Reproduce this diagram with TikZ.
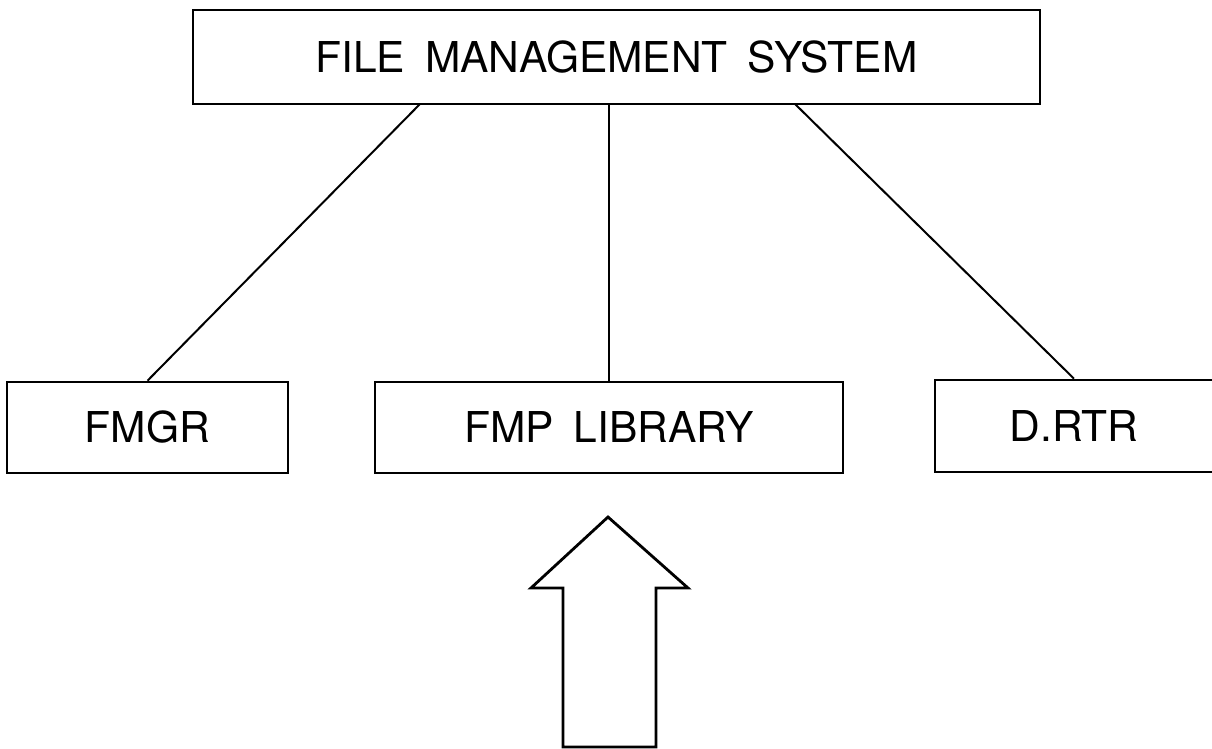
\documentclass[tikz,border=0pt]{standalone}
\usepackage{fontspec}
\setmainfont{TeX Gyre Heros}[WordSpace=1.7]
\tikzset{
  unitbox/.style={draw=black, line width=2.6pt, inner sep=0pt, fill=white,
    font=\fontsize{42.5}{50}\selectfont},
  link/.style={draw=black, line width=2pt},
  bigarrow/.style={draw=black, line width=2.8pt, line join=miter, fill=white}
}
\begin{document}
\begin{tikzpicture}[x=1pt, y=-1pt]
  \useasboundingbox (0,0) rectangle (1212,749);
  \clip (0,0) rectangle (1212,749);

  % system and its three parts
  \node[unitbox, minimum width=847pt, minimum height=94pt] (fms) at (616.5,57) {FILE MANAGEMENT SYSTEM};
  \node[unitbox, minimum width=281pt, minimum height=91pt] (fmgr) at (147.5,427.5) {FMGR};
  \node[unitbox, minimum width=468pt, minimum height=91pt] (fmp) at (609,427.5) {FMP LIBRARY};
  \node[unitbox, minimum width=278pt, minimum height=92pt] (drtr) at (1074,426) {D.RTR};

  % connection points on the lower edge of the system box
  \coordinate (fmsL) at (420,104);
  \coordinate (fmsR) at (795,104);

  \draw[link] (fmsL) -- (fmgr.north);
  \draw[link] (fms.south -| fmp.north) -- (fmp.north);
  \draw[link] (fmsR) -- (drtr.north);

  % hollow block arrow pointing up at the library
  \coordinate (tip) at (608,517);
  \draw[bigarrow] (tip) -- (688,588) -- (656,588) -- (656,747) -- (563,747)
    -- (563,588) -- (531,588) -- cycle;
\end{tikzpicture}
\end{document}
